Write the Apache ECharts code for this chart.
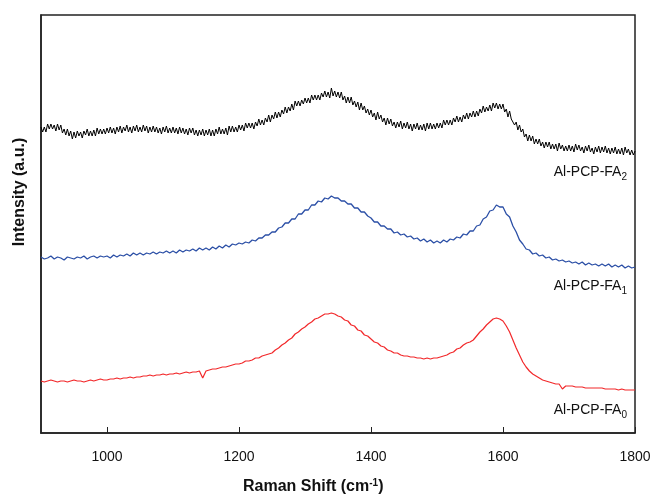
<!DOCTYPE html>
<html>
<head>
<meta charset="utf-8">
<script src="https://cdn.jsdelivr.net/npm/echarts@6/dist/echarts.min.js"></script>
<style>
  html, body { margin: 0; padding: 0; background: #fff; }
  #main { width: 654px; height: 498px; }
</style>
</head>
<body>
<div id="main"></div>
<script>
// Raman shift grid starts at 900 cm-1; FA2 sampled every 2.5 cm-1, the others every 5
var shiftStart = 900;
var fa2Step = 2.5;
var fa1Step = 5;
var fa0Step = 5;

// intensities (a.u., offset stacked)
var fa2 = [
    306, 301, 306, 301, 309, 304, 309, 304, 308, 302, 309, 303, 308, 300, 304, 298, 304, 297, 302, 294,
    301, 295, 302, 297, 301, 295, 302, 298, 304, 297, 302, 297, 303, 297, 305, 299, 304, 299, 304, 299,
    305, 300, 306, 300, 305, 299, 306, 301, 307, 300, 306, 302, 308, 301, 306, 300, 307, 302, 308, 301,
    306, 301, 308, 302, 307, 300, 306, 301, 307, 301, 306, 300, 305, 299, 306, 301, 307, 300, 305, 300,
    306, 300, 305, 299, 306, 300, 305, 299, 304, 298, 305, 300, 305, 298, 303, 297, 303, 298, 304, 297,
    303, 298, 304, 297, 303, 297, 304, 299, 306, 299, 304, 299, 305, 298, 307, 301, 307, 301, 306, 301,
    308, 303, 308, 302, 310, 305, 310, 305, 310, 304, 311, 307, 314, 308, 313, 308, 315, 311, 318, 311,
    318, 314, 321, 315, 321, 316, 323, 319, 326, 320, 326, 322, 329, 323, 332, 327, 332, 327, 333, 329,
    335, 330, 335, 330, 338, 333, 338, 333, 338, 333, 340, 336, 342, 336, 341, 335, 345, 337, 342, 336,
    341, 335, 341, 333, 337, 330, 336, 330, 336, 328, 332, 326, 331, 323, 330, 323, 327, 320, 324, 318,
    323, 316, 320, 313, 321, 314, 318, 311, 315, 308, 315, 309, 314, 307, 311, 305, 311, 306, 312, 304,
    310, 305, 311, 304, 309, 302, 309, 304, 310, 303, 308, 303, 309, 302, 310, 304, 310, 304, 309, 304,
    310, 305, 310, 305, 313, 308, 313, 308, 313, 308, 315, 311, 317, 311, 316, 311, 318, 314, 320, 314,
    320, 316, 322, 316, 322, 317, 324, 320, 327, 321, 326, 322, 328, 322, 330, 325, 330, 324, 329, 324,
    329, 321, 324, 316, 322, 314, 316, 308, 311, 303, 308, 301, 304, 296, 299, 292, 298, 292, 297, 289,
    294, 289, 294, 287, 291, 285, 291, 286, 291, 284, 289, 284, 289, 282, 290, 284, 288, 282, 287, 282,
    288, 282, 287, 281, 289, 283, 288, 282, 286, 280, 287, 282, 288, 281, 285, 279, 286, 281, 287, 280,
    286, 281, 287, 280, 285, 279, 285, 280, 286, 279, 284, 279, 285, 278, 286, 280, 284, 278, 283, 278,
    282
];
var fa1 = [
    176, 174, 175, 177, 174, 176, 175, 173, 176, 175,
    174, 176, 175, 177, 174, 176, 177, 175, 177, 176,
    177, 175, 178, 176, 178, 177, 179, 177, 180, 178,
    180, 178, 180, 179, 181, 179, 181, 180, 182, 180,
    182, 180, 183, 181, 183, 182, 184, 182, 185, 183,
    185, 183, 186, 184, 187, 185, 188, 186, 189, 188,
    190, 189, 191, 190, 193, 192, 195, 195, 198, 198,
    201, 201, 205, 206, 210, 210, 214, 214, 219, 219,
    223, 223, 228, 228, 232, 231, 235, 234, 237, 235,
    235, 232, 232, 229, 229, 225, 225, 221, 221, 217,
    215, 211, 211, 207, 207, 204, 204, 200, 201, 198,
    199, 196, 197, 194, 195, 192, 194, 191, 193, 190,
    192, 190, 193, 191, 194, 193, 196, 195, 199, 198,
    202, 202, 207, 208, 214, 216, 222, 223, 228, 226,
    226, 219, 216, 207, 201, 193, 189, 184, 183, 179,
    180, 177, 178, 175, 176, 173, 174, 172, 173, 171,
    172, 170, 171, 169, 171, 168, 170, 168, 169, 167,
    169, 167, 169, 166, 168, 166, 168, 165, 167, 165,
    166
];
var fa0 = [
    52, 51, 52, 53, 52, 51, 52, 52, 51, 52,
    53, 52, 52, 51, 52, 53, 52, 53, 54, 53,
    53, 54, 54, 55, 54, 55, 55, 56, 55, 56,
    56, 57, 57, 58, 57, 58, 58, 59, 58, 59,
    59, 60, 59, 60, 61, 60, 61, 61, 62, 55,
    62, 63, 64, 64, 65, 66, 66, 67, 68, 69,
    69, 70, 72, 72, 73, 75, 75, 77, 78, 79,
    80, 83, 85, 88, 90, 93, 95, 99, 101, 104,
    106, 109, 111, 114, 115, 117, 119, 119, 120, 119,
    117, 116, 113, 112, 108, 107, 103, 102, 98, 97,
    94, 91, 90, 87, 86, 83, 82, 80, 80, 78,
    77, 77, 76, 76, 75, 75, 74, 75, 74, 75,
    75, 76, 77, 78, 80, 81, 84, 85, 88, 90,
    91, 93, 97, 101, 104, 108, 111, 114, 115, 114,
    112, 107, 101, 93, 85, 78, 71, 66, 62, 59,
    57, 55, 53, 52, 51, 50, 49, 49, 44, 47,
    47, 47, 46, 46, 46, 45, 45, 45, 45, 45,
    45, 44, 44, 44, 44, 43, 44, 43, 43, 43,
    43
];
var xTicks = [1000, 1200, 1400, 1600, 1800];
var sampleNames = ['Al-PCP-FA2', 'Al-PCP-FA1', 'Al-PCP-FA0'];

function pairs(arr, step) {
    return arr.map(function(v, i) {
        return [shiftStart + i * step, v];
    });
}

var myChart = echarts.init(document.getElementById('main'));
var font = '"Liberation Sans", Arial, sans-serif';

function sampleLabel(text, sub, y) {
    return {
        type: 'text',
        right: 27,
        top: y,
        style: {
            text: '{m|' + text + '}{s|' + sub + '}',
            rich: {
                m: { fontSize: 14, fontFamily: font, fill: '#111', lineHeight: 18 },
                s: { fontSize: 10, fontFamily: font, fill: '#111', lineHeight: 18, padding: [9, 0, 0, 0] }
            }
        }
    };
}

var option = {
    animation: false,
    grid: {
        left: 41,
        right: 19,
        top: 15,
        bottom: 65,
        show: true,
        borderColor: '#222',
        borderWidth: 1.5
    },
    xAxis: {
        type: 'value',
        min: 900,
        max: 1800,
        axisLine: { show: true, lineStyle: { color: '#222', width: 1.5 } },
        axisTick: {
            show: true,
            inside: true,
            length: 6,
            customValues: xTicks,
            lineStyle: { color: '#222', width: 1 }
        },
        axisLabel: {
            customValues: xTicks,
            fontSize: 14,
            fontFamily: font,
            color: '#111',
            margin: 17,
            showMaxLabel: true,
            formatter: function(v) {
                return String(v);
            }
        },
        splitLine: { show: false }
    },
    yAxis: {
        type: 'value',
        min: 0,
        max: 418,
        axisLine: { show: true, lineStyle: { color: '#222', width: 1.5 } },
        axisTick: { show: false },
        axisLabel: { show: false },
        splitLine: { show: false }
    },
    graphic: [
        {
            type: 'text',
            left: 243,
            top: 478,
            style: {
                text: '{t|Raman Shift (cm}{p|-1}{t|)}',
                rich: {
                    t: { fontSize: 16, fontWeight: 'bold', fontFamily: font, fill: '#111', lineHeight: 20 },
                    p: { fontSize: 10, fontWeight: 'bold', fontFamily: font, fill: '#111', lineHeight: 20, padding: [0, 0, 8, 0] }
                }
            }
        },
        {
            type: 'text',
            x: 20,
            y: 192,
            rotation: Math.PI / 2,
            style: {
                text: 'Intensity (a.u.)',
                fontSize: 16,
                fontWeight: 'bold',
                fontFamily: font,
                fill: '#111',
                align: 'center',
                verticalAlign: 'middle'
            }
        },
        sampleLabel('Al-PCP-FA', '2', 163),
        sampleLabel('Al-PCP-FA', '1', 277),
        sampleLabel('Al-PCP-FA', '0', 401)
    ],
    series: [
        {
            name: sampleNames[0],
            type: 'line',
            data: pairs(fa2, fa2Step),
            showSymbol: false,
            lineStyle: { color: '#000', width: 1 }
        },
        {
            name: sampleNames[1],
            type: 'line',
            data: pairs(fa1, fa1Step),
            showSymbol: false,
            lineStyle: { color: '#2b4fa6', width: 1.3 }
        },
        {
            name: sampleNames[2],
            type: 'line',
            data: pairs(fa0, fa0Step),
            showSymbol: false,
            lineStyle: { color: '#f2282a', width: 1.2 }
        }
    ]
};

myChart.setOption(option);

window.onresize = function() {
    myChart.resize();
};
</script>
</body>
</html>
